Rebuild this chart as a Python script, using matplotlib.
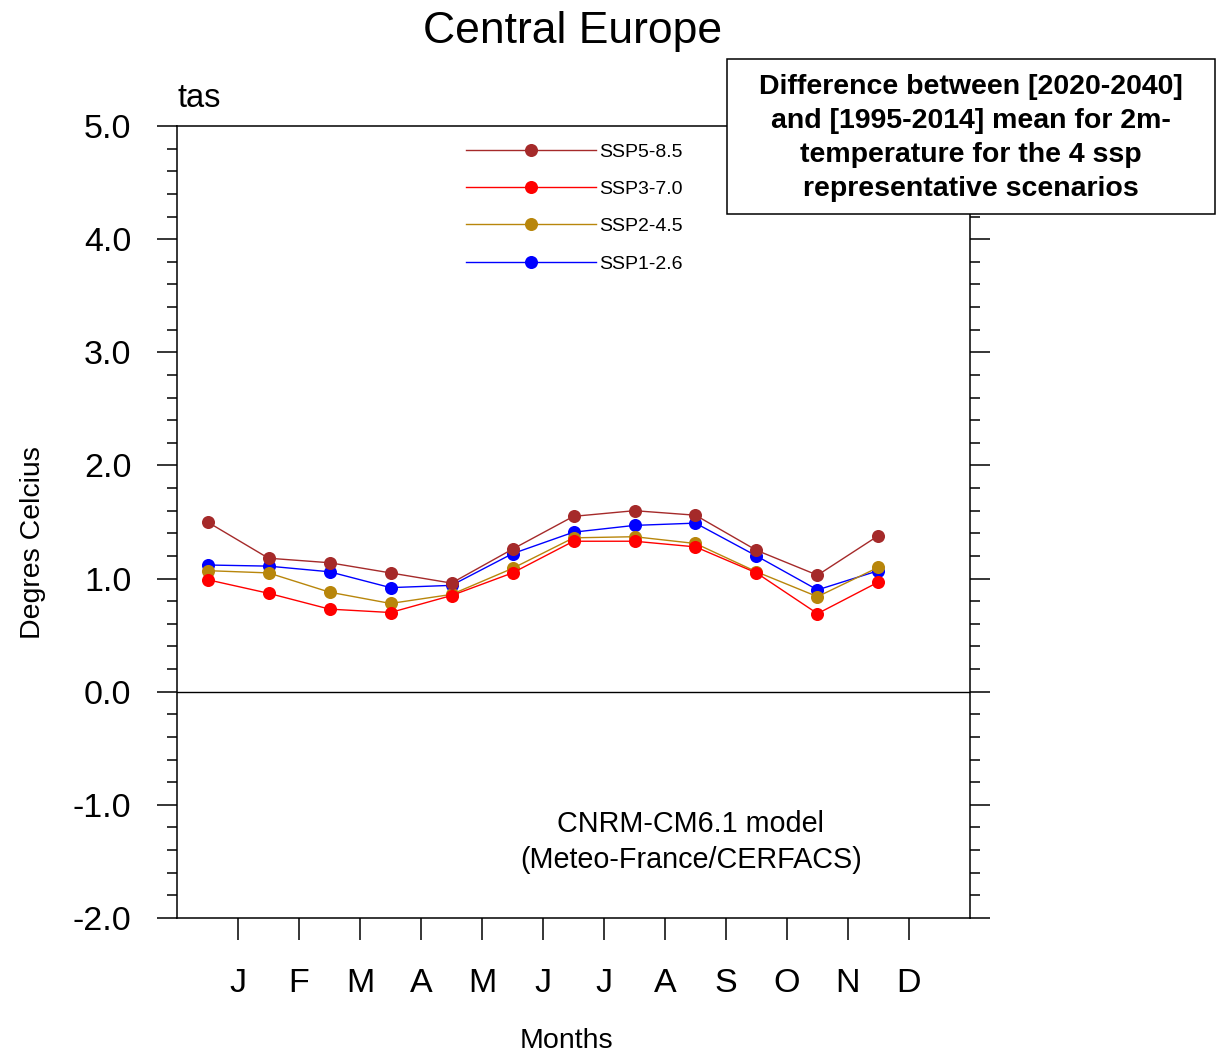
import numpy as np
import matplotlib
matplotlib.use("Agg")
import matplotlib.pyplot as plt
from matplotlib.ticker import MultipleLocator, FormatStrFormatter
from matplotlib.patches import Rectangle

plt.rcParams["font.family"] = ["Liberation Sans", "DejaVu Sans"]
plt.rcParams["axes.unicode_minus"] = False

# Monthly mean 2m-temperature change, [2020-2040] minus [1995-2014]
months = ["J", "F", "M", "A", "M", "J", "J", "A", "S", "O", "N", "D"]
scenarios = ["SSP5-8.5", "SSP3-7.0", "SSP2-4.5", "SSP1-2.6"]
ssp585 = [1.50, 1.18, 1.14, 1.05, 0.96, 1.26, 1.55, 1.60, 1.56, 1.25, 1.03, 1.38]
ssp370 = [0.99, 0.87, 0.73, 0.70, 0.85, 1.05, 1.33, 1.33, 1.28, 1.05, 0.69, 0.97]
ssp245 = [1.07, 1.05, 0.88, 0.78, 0.86, 1.09, 1.36, 1.37, 1.31, 1.06, 0.84, 1.10]
ssp126 = [1.12, 1.11, 1.06, 0.92, 0.94, 1.22, 1.41, 1.47, 1.49, 1.20, 0.90, 1.07]
colors = ["#A52A2A", "#FF0000", "#B8860B", "#0000FF"]
series = [ssp585, ssp370, ssp245, ssp126]

fig = plt.figure(figsize=(12.25, 10.53), dpi=100)
ax = fig.add_axes([177 / 1225, 1 - 918 / 1053, (970 - 177) / 1225, (918 - 126) / 1053])

# points sit half a month before each month tick
xpos = np.arange(len(months)) + 0.5
for vals, col in list(zip(series, colors))[::-1]:
    ax.plot(xpos, vals, color=col, lw=1.0, marker="o", ms=9.4,
            markeredgewidth=0, zorder=3)

ax.axhline(0.0, color="black", lw=1.0, zorder=2)

ax.set_xlim(0, 13)
ax.set_ylim(-2.0, 5.0)
ax.set_xticks(np.arange(1, 13))
ax.set_xticklabels(months)
ax.yaxis.set_major_locator(MultipleLocator(1.0))
ax.yaxis.set_minor_locator(MultipleLocator(0.2))
ax.yaxis.set_major_formatter(FormatStrFormatter("%.1f"))

for s in ax.spines.values():
    s.set_linewidth(1.1)
ax.tick_params(axis="y", which="major", direction="out", length=14.4, width=1.1,
               left=True, right=True, labelsize=24.5, pad=18.5)
ax.tick_params(axis="y", which="minor", direction="out", length=7.2, width=1.1,
               left=True, right=True)
ax.tick_params(axis="x", which="major", direction="out", length=16, width=1.1,
               top=False, labelsize=24.5, pad=20)
ax.tick_params(axis="x", which="minor", bottom=False, top=False)

# legend drawn inside the plot area
leg_y = [0.9697, 0.923, 0.876, 0.828]
for lab, col, yy in zip(scenarios, colors, leg_y):
    ax.plot([0.3644, 0.5284], [yy, yy], color=col, lw=1.0,
            transform=ax.transAxes, clip_on=False)
    ax.plot([0.446], [yy], color=col, marker="o", ms=9.4, markeredgewidth=0,
            transform=ax.transAxes, clip_on=False)
    ax.text(0.532, yy - 0.003, lab, fontsize=14, va="center", ha="left",
            transform=ax.transAxes)

ax.text(0.648, 0.096, "CNRM-CM6.1 model\n(Meteo-France/CERFACS)",
        fontsize=20.7, ha="center", va="center", linespacing=1.38,
        transform=ax.transAxes)

fig.text(573 / 1225, 1 - 31 / 1053, "Central Europe", fontsize=32,
         ha="center", va="center")
fig.text(178 / 1225, 1 - 107 / 1053, "tas", fontsize=23.5, ha="left",
         va="baseline")
fig.text(33 / 1225, 1 - 543 / 1053, "Degres Celcius", fontsize=20.5,
         rotation=90, ha="center", va="center")
fig.text(566 / 1225, 1 - 1041 / 1053, "Months", fontsize=20.5,
         ha="center", va="center")

box = Rectangle((727 / 1225, 1 - 214 / 1053), (1215 - 727) / 1225,
                (214 - 59) / 1053, transform=fig.transFigure,
                facecolor="white", edgecolor="black", lw=1.1, zorder=10)
fig.add_artist(box)
fig.text(971 / 1225, 1 - 138 / 1053,
         "Difference between [2020-2040]\nand [1995-2014] mean for 2m-\n"
         "temperature for the 4 ssp\nrepresentative scenarios",
         fontsize=20.5, fontweight="bold", ha="center", va="center",
         linespacing=1.4, zorder=11)

fig.savefig("out.png", dpi=100)
